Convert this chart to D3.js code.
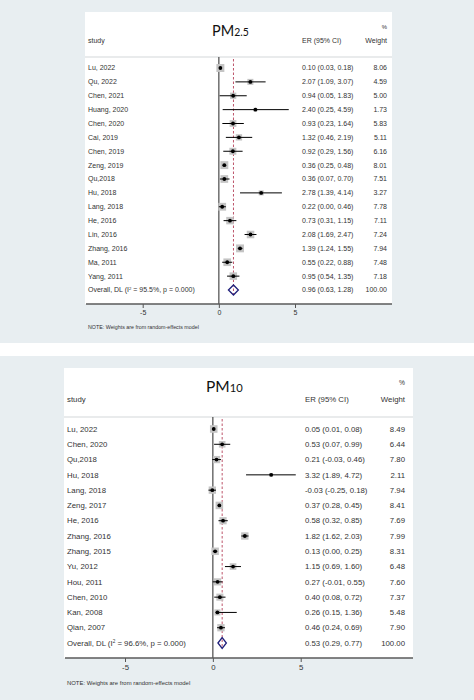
<!DOCTYPE html>
<html>
<head>
<meta charset="utf-8">
<script src="https://cdn.jsdelivr.net/npm/d3@7"></script>
<style>
  html, body { margin: 0; padding: 0; background: #ffffff; }
  svg { display: block; }
  text { font-family: "Liberation Sans", Arial, sans-serif; fill: #333; }
</style>
</head>
<body>
<svg id="chart" width="474" height="700"></svg>
<script>
// ---------- DATA ----------
const pm25Studies = ["Lu, 2022","Qu, 2022","Chen, 2021","Huang, 2020","Chen, 2020","Cai, 2019","Chen, 2019","Zeng, 2019","Qu,2018","Hu, 2018","Lang, 2018","He, 2016","Lin, 2016","Zhang, 2016","Ma, 2011","Yang, 2011"];
const pm25ER     = [0.10, 2.07, 0.94, 2.40, 0.93, 1.32, 0.92, 0.36, 0.36, 2.78, 0.22, 0.73, 2.08, 1.39, 0.55, 0.95];
const pm25Lower  = [0.03, 1.09, 0.05, 0.25, 0.23, 0.46, 0.29, 0.25, 0.07, 1.39, 0.00, 0.31, 1.69, 1.24, 0.22, 0.54];
const pm25Upper  = [0.18, 3.07, 1.83, 4.59, 1.64, 2.19, 1.56, 0.48, 0.70, 4.14, 0.46, 1.15, 2.47, 1.55, 0.88, 1.35];
const pm25Weight = [8.06, 4.59, 5.00, 1.73, 5.83, 5.11, 6.16, 8.01, 7.51, 3.27, 7.78, 7.11, 7.24, 7.94, 7.48, 7.18];
const pm25Overall = [0.96, 0.63, 1.28];   // ER, lower, upper
const pm25OverallLabel = ["Overall, DL (I", " = 95.5%, p = 0.000)"];

const pm10Studies = ["Lu, 2022","Chen, 2020","Qu,2018","Hu, 2018","Lang, 2018","Zeng, 2017","He, 2016","Zhang, 2016","Zhang, 2015","Yu, 2012","Hou, 2011","Chen, 2010","Kan, 2008","Qian, 2007"];
const pm10ER     = [0.05, 0.53, 0.21, 3.32, -0.03, 0.37, 0.58, 1.82, 0.13, 1.15, 0.27, 0.40, 0.26, 0.46];
const pm10Lower  = [0.01, 0.07, -0.03, 1.89, -0.25, 0.28, 0.32, 1.62, 0.00, 0.69, -0.01, 0.08, 0.15, 0.24];
const pm10Upper  = [0.08, 0.99, 0.46, 4.72, 0.18, 0.45, 0.85, 2.03, 0.25, 1.60, 0.55, 0.72, 1.36, 0.69];
const pm10Weight = [8.49, 6.44, 7.80, 2.11, 7.94, 8.41, 7.69, 7.99, 8.31, 6.48, 7.60, 7.37, 5.48, 7.90];
const pm10Overall = [0.53, 0.29, 0.77];
const pm10OverallLabel = ["Overall, DL (I", " = 96.6%, p = 0.000)"];

const tickValues = [-5, 0, 5];
const tickLabels = ["-5", "0", "5"];
const totalWeight = "100.00";
const noteText = "NOTE: Weights are from random-effects model";

// ---------- DRAW ----------
const svg = d3.select("#chart");
const fmt = v => v.toFixed(2);

function drawPanel(p) {
  const g = svg.append("g");
  // background
  g.append("rect").attr("x", 0).attr("y", p.bgTop).attr("width", 474).attr("height", p.bgH).attr("fill", "#e8eef1");
  g.append("rect").attr("x", p.boxL).attr("y", p.boxT).attr("width", p.boxR - p.boxL).attr("height", p.boxB - p.boxT).attr("fill", "#ffffff");

  const x = d3.scaleLinear().domain([-5, 5]).range(p.xRange);
  const n = p.studies.length;
  const y = d3.scaleLinear().domain([0, n]).range([p.row0, p.rowN]);

  // title
  const t = g.append("text").attr("x", p.titleX).attr("y", p.titleY)
    .style("font-family", "Lato, 'Open Sans', sans-serif").style("fill", "#111");
  t.append("tspan").attr("font-size", p.titleSize).text("PM");
  t.append("tspan").attr("font-size", p.titleSize * 0.72).text(p.sub);

  // headers
  g.append("text").attr("x", p.studyX).attr("y", p.headY).attr("font-size", p.fs).text("study");
  g.append("text").attr("x", p.erX).attr("y", p.headY).attr("font-size", p.fs).text("ER (95% CI)");
  g.append("text").attr("x", p.wX).attr("y", p.headY).attr("font-size", p.fs).attr("text-anchor", "end").text("Weight");
  g.append("text").attr("x", p.wX).attr("y", p.pctY).attr("font-size", p.fs * 0.85).attr("text-anchor", "end").text("%");
  g.append("line").attr("x1", p.boxL).attr("x2", p.boxR).attr("y1", p.sepY).attr("y2", p.sepY)
    .attr("stroke", "#d4d8da").attr("stroke-width", 1.2);

  // zero line
  g.append("line").attr("x1", x(0)).attr("x2", x(0)).attr("y1", p.sepY).attr("y2", p.boxB)
    .attr("stroke", "#4a4a4a").attr("stroke-width", 1.2);
  // overall dashed line
  g.append("line").attr("x1", x(p.overall[0])).attr("x2", x(p.overall[0]))
    .attr("y1", p.sepY + 2).attr("y2", y(n) + p.diaH / 2)
    .attr("stroke", "#b5425a").attr("stroke-width", 0.9).attr("stroke-dasharray", "2.5,2");

  // rows
  const rows = g.selectAll("g.row").data(p.studies).join("g").attr("class", "row");
  rows.append("rect")
    .attr("x", (d, i) => x(p.er[i]) - p.sq * Math.sqrt(p.w[i]) / 2)
    .attr("y", (d, i) => y(i) - p.sq * Math.sqrt(p.w[i]) / 2)
    .attr("width", (d, i) => p.sq * Math.sqrt(p.w[i]))
    .attr("height", (d, i) => p.sq * Math.sqrt(p.w[i]))
    .attr("fill", "#c4c4c4");
  rows.append("line")
    .attr("x1", (d, i) => x(p.lo[i])).attr("x2", (d, i) => x(p.hi[i]))
    .attr("y1", (d, i) => y(i)).attr("y2", (d, i) => y(i))
    .attr("stroke", "#000").attr("stroke-width", 1);
  rows.append("circle")
    .attr("cx", (d, i) => x(p.er[i])).attr("cy", (d, i) => y(i)).attr("r", 1.9).attr("fill", "#000");
  rows.append("text").attr("x", p.studyX).attr("y", (d, i) => y(i)).attr("dy", "0.35em")
    .attr("font-size", p.fs).text(d => d);
  rows.append("text").attr("x", p.erX).attr("y", (d, i) => y(i)).attr("dy", "0.35em")
    .attr("font-size", p.fs)
    .text((d, i) => `${fmt(p.er[i])} (${fmt(p.lo[i])}, ${fmt(p.hi[i])})`);
  rows.append("text").attr("x", p.wX).attr("y", (d, i) => y(i)).attr("dy", "0.35em")
    .attr("font-size", p.fs).attr("text-anchor", "end").text((d, i) => fmt(p.w[i]));

  // overall
  const oy = y(n);
  const dia = [[x(p.overall[1]), oy], [x(p.overall[0]), oy - p.diaH / 2], [x(p.overall[2]), oy], [x(p.overall[0]), oy + p.diaH / 2]];
  g.append("polygon").attr("points", dia.map(d => d.join(",")).join(" "))
    .attr("fill", "none").attr("stroke", "#1f1f7a").attr("stroke-width", 1.3);
  const ot = g.append("text").attr("x", p.studyX).attr("y", oy).attr("dy", "0.35em").attr("font-size", p.fs);
  ot.append("tspan").text(p.ovLabel[0]);
  ot.append("tspan").attr("font-size", p.fs * 0.6).attr("dy", "-0.5em").text("2");
  ot.append("tspan").attr("dy", "0.3em").text(p.ovLabel[1]);
  g.append("text").attr("x", p.erX).attr("y", oy).attr("dy", "0.35em").attr("font-size", p.fs)
    .text(`${fmt(p.overall[0])} (${fmt(p.overall[1])}, ${fmt(p.overall[2])})`);
  g.append("text").attr("x", p.wX).attr("y", oy).attr("dy", "0.35em").attr("font-size", p.fs)
    .attr("text-anchor", "end").text(totalWeight);

  // axis
  const axis = d3.axisBottom(x).tickValues(tickValues).tickSize(4).tickPadding(2)
    .tickFormat((d, i) => tickLabels[i]);
  const ag = g.append("g").attr("transform", `translate(0,${p.boxB})`).call(axis);
  ag.select(".domain").remove();
  ag.selectAll(".tick line").attr("stroke", "#555");
  ag.selectAll(".tick text").attr("font-size", p.fs).style("font-family", "'Liberation Sans', Arial, sans-serif").attr("fill", "#333");
  g.append("line").attr("x1", p.boxL + 1).attr("x2", p.boxR).attr("y1", p.boxB).attr("y2", p.boxB)
    .attr("stroke", "#5a5a5a").attr("stroke-width", 1.6);

  g.append("text").attr("x", p.studyX).attr("y", p.noteY).attr("font-size", p.fs * 0.76).text(noteText);
}

drawPanel({
  bgTop: 0, bgH: 343, boxL: 85, boxT: 12, boxR: 392, boxB: 304,
  xRange: [142.7, 295], row0: 68, rowN: 290,
  studies: pm25Studies, er: pm25ER, lo: pm25Lower, hi: pm25Upper, w: pm25Weight,
  overall: pm25Overall, ovLabel: pm25OverallLabel,
  titleX: 212, titleY: 36, titleSize: 14.5, sub: "2.5",
  studyX: 88, erX: 302, wX: 387, headY: 43, pctY: 29, sepY: 57,
  fs: 7, sq: 2.8, diaH: 10, noteY: 329
});

drawPanel({
  bgTop: 356, bgH: 344, boxL: 64, boxT: 368, boxR: 413, boxB: 658,
  xRange: [125, 300.7], row0: 429, rowN: 643,
  studies: pm10Studies, er: pm10ER, lo: pm10Lower, hi: pm10Upper, w: pm10Weight,
  overall: pm10Overall, ovLabel: pm10OverallLabel,
  titleX: 206, titleY: 392, titleSize: 15.5, sub: "10",
  studyX: 67, erX: 305, wX: 405, headY: 402, pctY: 385, sepY: 417,
  fs: 7.8, sq: 2.6, diaH: 11, noteY: 685
});
</script>
</body>
</html>
